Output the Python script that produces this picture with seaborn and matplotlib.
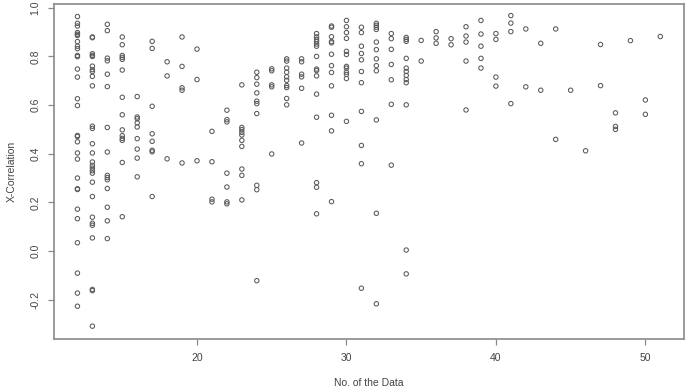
import pandas as pd
import matplotlib
matplotlib.use('Agg')
import matplotlib.pyplot as plt
import seaborn as sns

# X-correlation values, one list per "No. of the Data"
y12 = [0.964, 0.936, 0.925, 0.898, 0.891, 0.886, 0.861, 0.842, 0.832, 0.804, 0.799, 0.748, 0.715,
       0.626, 0.598, 0.475, 0.471, 0.449, 0.403, 0.378, 0.300, 0.256, 0.253, 0.172, 0.133, 0.034,
       -0.091, -0.173, -0.227]
y13 = [0.880, 0.877, 0.811, 0.804, 0.800, 0.760, 0.746, 0.738, 0.718, 0.679, 0.513, 0.504, 0.441,
       0.403, 0.366, 0.352, 0.341, 0.330, 0.320, 0.283, 0.224, 0.139, 0.114, 0.106, 0.054, -0.158,
       -0.163, -0.309]
y14 = [0.932, 0.906, 0.793, 0.782, 0.727, 0.676, 0.508, 0.407, 0.311, 0.302, 0.293, 0.257, 0.180,
       0.124, 0.051]
y15 = [0.880, 0.848, 0.804, 0.796, 0.788, 0.744, 0.632, 0.560, 0.498, 0.474, 0.463, 0.455, 0.364, 0.141]
y16 = [0.635, 0.551, 0.544, 0.527, 0.510, 0.462, 0.419, 0.382, 0.305]
y17 = [0.862, 0.833, 0.595, 0.482, 0.451, 0.414, 0.408, 0.224]
y18 = [0.778, 0.720, 0.379]
y19 = [0.880, 0.759, 0.671, 0.661, 0.362]
y20 = [0.830, 0.705, 0.371]
y21 = [0.492, 0.367, 0.213, 0.202]
y22 = [0.579, 0.540, 0.531, 0.320, 0.263, 0.202, 0.194]
y23 = [0.683, 0.508, 0.499, 0.488, 0.477, 0.455, 0.430, 0.337, 0.311, 0.210]
y24 = [0.735, 0.713, 0.686, 0.650, 0.616, 0.606, 0.565, 0.270, 0.252, -0.122]
y25 = [0.749, 0.741, 0.683, 0.675, 0.399]
y26 = [0.790, 0.781, 0.752, 0.735, 0.716, 0.702, 0.680, 0.672, 0.627, 0.601]
y27 = [0.790, 0.778, 0.727, 0.716, 0.669, 0.444]
y28 = [0.894, 0.880, 0.870, 0.861, 0.851, 0.842, 0.800, 0.748, 0.742, 0.720, 0.645, 0.550, 0.281,
       0.262, 0.153]
y29 = [0.925, 0.920, 0.881, 0.861, 0.856, 0.809, 0.762, 0.734, 0.679, 0.558, 0.494, 0.203]
y30 = [0.948, 0.922, 0.898, 0.874, 0.821, 0.808, 0.759, 0.752, 0.735, 0.726, 0.709, 0.533]
y31 = [0.920, 0.898, 0.842, 0.812, 0.786, 0.738, 0.692, 0.574, 0.434, 0.359, -0.153]
y32 = [0.936, 0.928, 0.920, 0.911, 0.859, 0.828, 0.790, 0.762, 0.741, 0.539, 0.155, -0.217]
y33 = [0.894, 0.873, 0.829, 0.767, 0.704, 0.603, 0.353]
y34 = [0.878, 0.870, 0.862, 0.792, 0.752, 0.738, 0.722, 0.705, 0.692, 0.601, 0.004, -0.094]
y35 = [0.866, 0.781]
y36 = [0.902, 0.876, 0.854]
y37 = [0.873, 0.848]
y38 = [0.922, 0.884, 0.859, 0.781, 0.580]
y39 = [0.948, 0.892, 0.842, 0.792, 0.752]
y40 = [0.894, 0.870, 0.715, 0.678]
y41 = [0.968, 0.937, 0.902, 0.606]
y42 = [0.913, 0.675]
y43 = [0.854, 0.661]
y44 = [0.913, 0.459]
y45 = [0.661]
y46 = [0.412]
y47 = [0.849, 0.680]
y48 = [0.568, 0.512, 0.500]
y49 = [0.865]
y50 = [0.621, 0.562]
y51 = [0.882]

columns = {12: y12, 13: y13, 14: y14, 15: y15, 16: y16, 17: y17, 18: y18, 19: y19, 20: y20,
           21: y21, 22: y22, 23: y23, 24: y24, 25: y25, 26: y26, 27: y27, 28: y28, 29: y29,
           30: y30, 31: y31, 32: y32, 33: y33, 34: y34, 35: y35, 36: y36, 37: y37, 38: y38,
           39: y39, 40: y40, 41: y41, 42: y42, 43: y43, 44: y44, 45: y45, 46: y46, 47: y47,
           48: y48, 49: y49, 50: y50, 51: y51}

x_ticks = [20, 30, 40, 50]
y_ticks = [-0.2, 0.0, 0.2, 0.4, 0.6, 0.8, 1.0]

df = pd.concat([pd.DataFrame({'no': n, 'xcorr': v}) for n, v in columns.items()], ignore_index=True)

sns.set_style('white')
plt.rcParams['font.family'] = ['Liberation Sans', 'DejaVu Sans']

fig = plt.figure(figsize=(6.85, 3.89), dpi=100)
ax = fig.add_axes([0.079, 0.129, 0.919, 0.861])

sns.scatterplot(x='no', y='xcorr', data=df, ax=ax, marker='o', s=10,
                facecolor='none', edgecolor='#5a5a5a', linewidth=0.75)

ax.set_xlim(10.44, 52.56)
ax.set_ylim(-0.361, 1.016)
ax.set_xticks(x_ticks)
ax.set_yticks(y_ticks)
ax.set_yticklabels(['%.1f' % t for t in y_ticks], rotation=90, va='center')

axis_col = '#8a8a8a'
text_col = '#444444'
for sp in ax.spines.values():
    sp.set_color(axis_col)
    sp.set_linewidth(1.2)
ax.tick_params(axis='both', direction='out', length=4, width=0.9, color=axis_col,
               labelcolor=text_col, labelsize=7.5, pad=6, left=True, bottom=True)

ax.set_xlabel('No. of the Data', fontsize=7.5, color=text_col, labelpad=11)
ax.set_ylabel('X-Correlation', fontsize=7.5, color=text_col, labelpad=10)

fig.savefig('out.png', dpi=100, facecolor='white')
